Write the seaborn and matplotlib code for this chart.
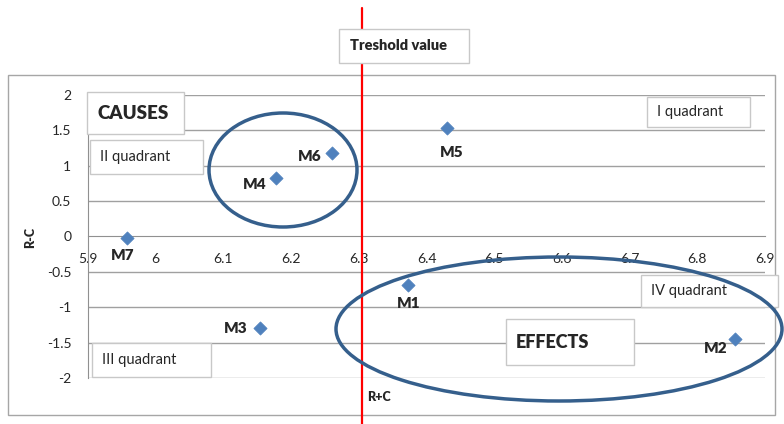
import matplotlib
matplotlib.use("Agg")
import matplotlib.pyplot as plt
from matplotlib.patches import Rectangle, Ellipse
import seaborn as sns
import pandas as pd

# === Data ===
labels = ["M1", "M2", "M3", "M4", "M5", "M6", "M7"]
r_plus_c = [6.373, 6.856, 6.154, 6.178, 6.430, 6.260, 5.958]
r_minus_c = [-0.68, -1.45, -1.30, 0.82, 1.53, 1.18, -0.02]
threshold = 6.305
x_ticks = [5.9, 6.0, 6.1, 6.2, 6.3, 6.4, 6.5, 6.6, 6.7, 6.8, 6.9]
y_ticks = [-2, -1.5, -1, -0.5, 0, 0.5, 1, 1.5, 2]

df = pd.DataFrame({"label": labels, "x": r_plus_c, "y": r_minus_c})

# label offsets in pixels (dx, dy, ha)
offsets = {
    "M1": (0, -19, "center"),
    "M2": (-8, -9, "right"),
    "M3": (-12, 0, "right"),
    "M4": (-10, -6, "right"),
    "M5": (5, -24, "center"),
    "M6": (-10, -3, "right"),
    "M7": (-5, -18, "center"),
}

sns.set_style("white")
plt.rcParams["font.family"] = ["Lato", "DejaVu Sans"]
BOLD = "heavy"

W, H = 784, 424
fig = plt.figure(figsize=(W / 100, H / 100), dpi=100)

def fx(px):
    return px / W

def fy(py):
    return 1 - py / H

# outer chart frame
fig.add_artist(Rectangle((fx(8), fy(415)), fx(775 - 8), (415 - 75) / H,
                         transform=fig.transFigure, fill=False,
                         edgecolor="#a6a6a6", lw=1, zorder=0))

ax = fig.add_axes([fx(88), fy(378), fx(765 - 88), (378 - 95) / H])
ax.set_xlim(5.9, 6.9)
ax.set_ylim(-2, 2)

for yv in y_ticks:
    if yv != 0:
        ax.axhline(yv, color="#a0a0a0", lw=1, zorder=0)

sns.scatterplot(data=df, x="x", y="y", marker="D", s=45, color="#4f81bd",
                edgecolor="#4f81bd", ax=ax, zorder=5, legend=False)

for lab, xv, yv in zip(labels, r_plus_c, r_minus_c):
    dx, dy, ha = offsets[lab]
    ax.annotate(lab, (xv, yv), xytext=(dx, dy), textcoords="offset pixels",
                ha=ha, va="center", fontsize=11, fontweight=BOLD)

# axes styling (Excel look: x axis crossing at y=0)
for s in ["top", "right"]:
    ax.spines[s].set_visible(False)
ax.spines["bottom"].set_position(("data", 0))
ax.spines["bottom"].set_color("#909090")
ax.spines["left"].set_color("#909090")
ax.set_xticks(x_ticks)
ax.set_xticklabels([f"{v:g}" for v in x_ticks])
ax.set_yticks(y_ticks)
ax.set_yticklabels([f"{v:g}" for v in y_ticks])
ax.tick_params(axis="x", direction="in", length=5, color="#909090", pad=12,
               labelsize=10)
ax.tick_params(axis="y", length=0, pad=12, labelsize=10)
ax.set_xlabel("")
ax.set_ylabel("")

# threshold line
ax.axvline(threshold, ymin=(378 - 424) / 283, ymax=(378 - 8) / 283,
           color="red", lw=1.6, clip_on=False, zorder=6)

fig.text(fx(30), fy(237), "R-C", rotation=90, ha="center", va="center",
         fontsize=9, fontweight=BOLD)
fig.text(fx(367), fy(397), "R+C", ha="left", va="center",
         fontsize=9, fontweight=BOLD)

def box(x0, y0, x1, y1, text, size, bold=False, pad=10):
    fig.add_artist(Rectangle((fx(x0), fy(y1)), fx(x1 - x0), (y1 - y0) / H,
                             transform=fig.transFigure, facecolor="white",
                             edgecolor="#c8c8c8", lw=1, zorder=7))
    fig.text(fx(x0 + pad), fy((y0 + y1) / 2), text, ha="left", va="center",
             fontsize=size, fontweight=BOLD if bold else "normal", zorder=8)

box(87, 92, 184, 134, "CAUSES", 13.5, bold=True, pad=10)
box(90, 140, 203, 174, "II quadrant", 10.5)
box(647, 97, 750, 127, "I quadrant", 10.5)
box(339, 29, 469, 63, "Treshold value", 10.5, bold=True, pad=11)
box(641, 275, 778, 307, "IV quadrant", 10.5)
box(506, 319, 634, 365, "EFFECTS", 13, bold=True, pad=10)
box(92, 343, 211, 377, "III quadrant", 10.5)

# ellipses
ell_color = "#355f8c"
fig.add_artist(Ellipse((fx(283), fy(170)), fx(148), 114 / H,
                       transform=fig.transFigure, fill=False,
                       edgecolor=ell_color, lw=2.5, zorder=9))
fig.add_artist(Ellipse((fx(559), fy(329)), fx(446), 144 / H,
                       transform=fig.transFigure, fill=False,
                       edgecolor=ell_color, lw=2.5, zorder=9))

fig.savefig("out.png", dpi=100)
